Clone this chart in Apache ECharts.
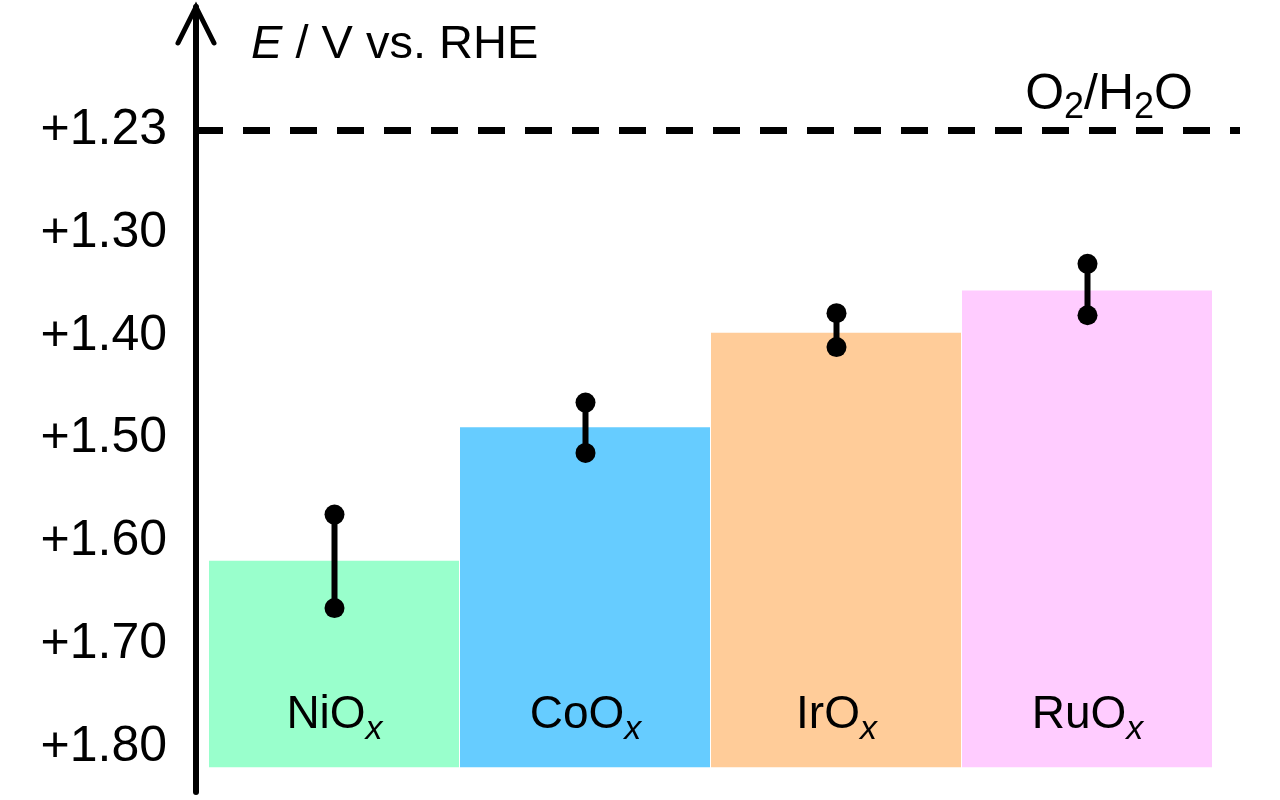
<!DOCTYPE html>
<html>
<head>
<meta charset="utf-8">
<script src="https://cdn.jsdelivr.net/npm/echarts@6/dist/echarts.min.js"></script>
<style>
  html, body { margin: 0; padding: 0; background: #fff; }
  #chart { width: 1280px; height: 800px; }
</style>
</head>
<body>
<div id="chart"></div>
<script>
// catalysts and their onset potentials (V vs. RHE)
var catalysts = ['NiO', 'CoO', 'IrO', 'RuO'];
var potentials = [1.619, 1.489, 1.397, 1.356];
var errLow = [1.574, 1.465, 1.378, 1.330];
var errHigh = [1.665, 1.514, 1.411, 1.380];
var barColors = ['#99FFCC', '#66CCFF', '#FFCC99', '#FFCCFF'];

var tickValues = [1.23, 1.30, 1.40, 1.50, 1.60, 1.70, 1.80];
var tickLabels = ['+1.23', '+1.30', '+1.40', '+1.50', '+1.60', '+1.70', '+1.80'];
var o2h2o = 1.23;
var barBase = 1.82;

var FONT = "'Liberation Sans', Arial, sans-serif";
var GRID_LEFT = 209, GRID_RIGHT = 67, GRID_TOP = 7, GRID_BOTTOM = 8;
var AXIS_OFFSET = 13;
var Y_MIN = 1.08, Y_MAX = 1.844;

// the original axis is broken above 1.30: 1.23 sits one step (0.1) above 1.30
function toAxis(v) {
	if (v >= 1.30) return v;
	return 1.30 - (1.30 - v) * (0.10 / 0.07);
}

var chart = echarts.init(document.getElementById('chart'));

var barData = [];
var errData = [];
for (var i = 0; i < catalysts.length; i++) {
	barData.push([i, toAxis(potentials[i])]);
	errData.push([i, toAxis(errLow[i]), toAxis(errHigh[i])]);
}

var option = {
	animation: false,
	backgroundColor: '#fff',
	grid: { left: GRID_LEFT, right: GRID_RIGHT, top: GRID_TOP, bottom: GRID_BOTTOM },
	xAxis: {
		type: 'category',
		data: catalysts,
		show: false
	},
	yAxis: {
		type: 'value',
		inverse: true,
		min: Y_MIN,
		max: Y_MAX,
		offset: AXIS_OFFSET,
		splitLine: { show: false },
		axisTick: { show: false },
		axisLine: { show: true, lineStyle: { color: '#000', width: 6 } },
		axisLabel: {
			customValues: tickValues.map(toAxis),
			margin: 29,
			fontSize: 50,
			fontFamily: FONT,
			color: '#000',
			formatter: function (val) {
				for (var k = 0; k < tickValues.length; k++) {
					if (Math.abs(toAxis(tickValues[k]) - val) < 1e-6) return tickLabels[k];
				}
				return '';
			}
		}
	},
	series: [
		{
			type: 'custom',
			name: 'bars',
			data: barData,
			encode: { x: 0, y: 1 },
			renderItem: function (params, api) {
				var idx = api.value(0);
				var top = api.coord([idx, api.value(1)]);
				var bottom = api.coord([idx, barBase]);
				var w = api.size([1, 0])[0];
				return {
					type: 'group',
					children: [{
						type: 'rect',
						shape: { x: top[0] - w / 2, y: top[1], width: w - 1, height: bottom[1] - top[1] },
						style: { fill: barColors[params.dataIndex] }
					}, {
						type: 'text',
						style: {
							x: top[0],
							y: bottom[1] - 52,
							text: '{n|' + catalysts[params.dataIndex] + '}{s|x}',
							align: 'center',
							verticalAlign: 'middle',
							rich: {
								n: { fontSize: 46, fontFamily: FONT, color: '#000', lineHeight: 62 },
								s: { fontSize: 34, fontFamily: FONT, fontStyle: 'italic', color: '#000', lineHeight: 34, verticalAlign: 'bottom' }
							}
						}
					}]
				};
			},
			markLine: {
				silent: true,
				symbol: ['none', 'none'],
				lineStyle: { color: '#000', width: 7, type: [27, 20] },
				label: {
					show: true,
					position: 'insideEndTop',
					distance: [47, 4],
					formatter: '{n|O}{s|2}{n|/H}{s|2}{n|O}',
					rich: {
						n: { fontSize: 50, fontFamily: FONT, color: '#000', lineHeight: 62 },
						s: { fontSize: 36, fontFamily: FONT, color: '#000', lineHeight: 36, verticalAlign: 'bottom' }
					}
				},
				data: [[
					{ x: GRID_LEFT - AXIS_OFFSET, yAxis: toAxis(o2h2o) },
					{ x: 1240, yAxis: toAxis(o2h2o) }
				]]
			}
		},
		{
			type: 'custom',
			name: 'error',
			data: errData,
			encode: { x: 0, y: [1, 2] },
			z: 5,
			renderItem: function (params, api) {
				var idx = api.value(0);
				var a = api.coord([idx, api.value(1)]);
				var b = api.coord([idx, api.value(2)]);
				return {
					type: 'group',
					children: [{
						type: 'line',
						shape: { x1: a[0], y1: a[1], x2: b[0], y2: b[1] },
						style: { stroke: '#000', lineWidth: 6 }
					}, {
						type: 'circle',
						shape: { cx: a[0], cy: a[1], r: 10 },
						style: { fill: '#000' }
					}, {
						type: 'circle',
						shape: { cx: b[0], cy: b[1], r: 10 },
						style: { fill: '#000' }
					}]
				};
			}
		}
	]
};

chart.setOption(option);

// arrow head and axis title
var axisX = GRID_LEFT - AXIS_OFFSET;
var axisTop = chart.convertToPixel({ yAxisIndex: 0 }, Y_MIN);
chart.setOption({
	graphic: [{
		type: 'polyline',
		shape: { points: [[axisX - 18, axisTop + 36], [axisX, axisTop], [axisX + 18, axisTop + 36]] },
		style: { stroke: '#000', lineWidth: 5, fill: null, lineCap: 'round', lineJoin: 'miter' },
		z: 10
	}, {
		type: 'text',
		x: 251,
		y: 45,
		style: {
			text: '{i|E}{n| / V vs. RHE}',
			verticalAlign: 'middle',
			rich: {
				i: { fontSize: 47, fontFamily: FONT, fontStyle: 'italic', color: '#000' },
				n: { fontSize: 47, fontFamily: FONT, color: '#000' }
			}
		}
	}]
});
</script>
</body>
</html>
